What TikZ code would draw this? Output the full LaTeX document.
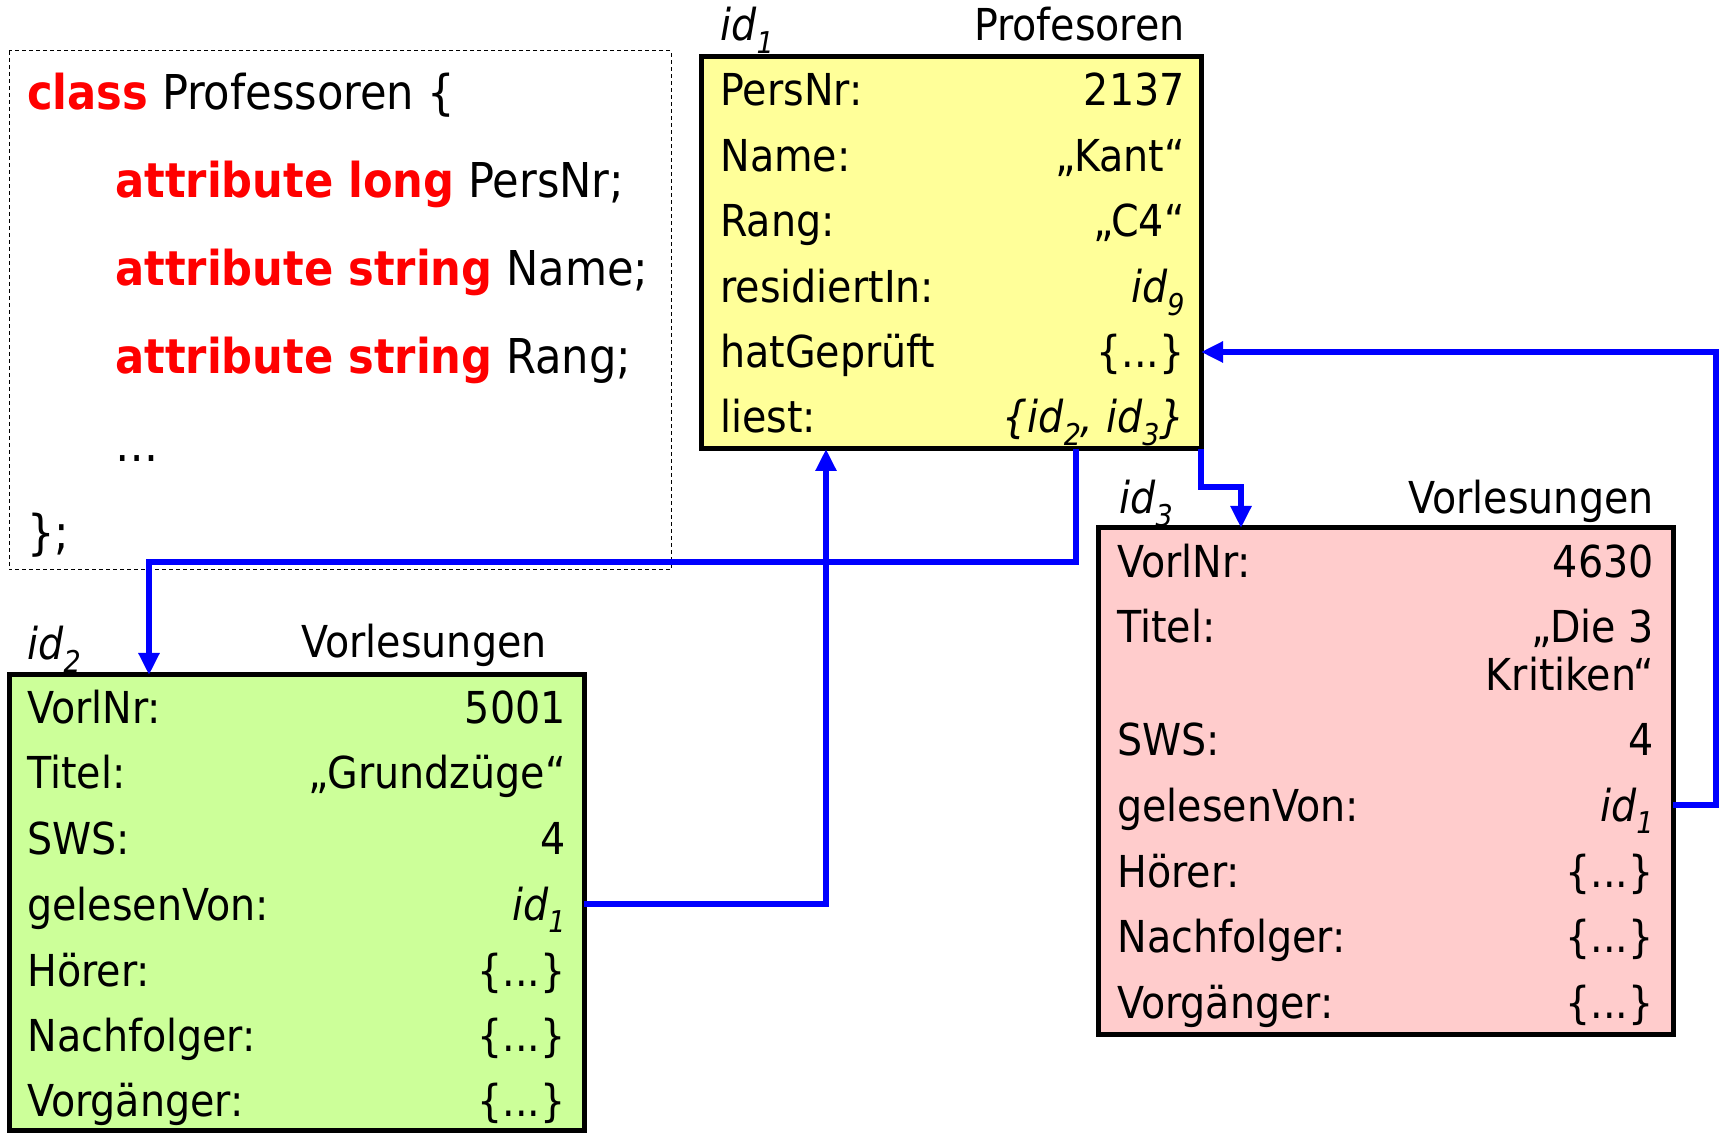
\documentclass[tikz,border=0pt]{standalone}
\usepackage{fontspec}
\setmainfont{DejaVu Sans Condensed}
\usetikzlibrary{arrows.meta}
\definecolor{profgelb}{HTML}{FFFF99}
\definecolor{vlgruen}{HTML}{CCFF99}
\definecolor{vlrot}{HTML}{FFCCCC}
\newcommand\oid[1]{\textit{id\raisebox{-.5ex}{\fontsize{15}{15}\selectfont#1}}}
\newcommand\kw[1]{\textcolor{red}{\bfseries#1}}

\begin{document}
\begin{tikzpicture}[x={(.5pt,0)},y={(0,-.5pt)},>={Triangle[length=11pt,width=10pt]},
  every node/.style={inner sep=0pt,font=\fontsize{22}{23}\selectfont},
  code/.style={anchor=base west,font=\fontsize{24}{24}\selectfont},
  lab/.style={anchor=base west},
  val/.style={anchor=base east,align=right},
  obj/.style={draw,line width=2.5pt,outer sep=0pt},
  link/.style={blue,line width=3.2pt,->}]
  \useasboundingbox (0,0) rectangle (1725,1133);
  % Klassendefinition
  \draw[dash pattern=on 2pt off 1.5pt,line width=.5pt] (9,51) rectangle (671,570);
  \node[code] (k1) at (27,110) {\kw{class} Professoren \{};
  \node[code] (k2) at (115,198) {\kw{attribute long} PersNr;};
  \node[code] (k3) at (115,286) {\kw{attribute string} Name;};
  \node[code] (k4) at (115,374) {\kw{attribute string} Rang;};
  \node[code] (k5) at (115,462) {\dots};
  \node[code] (k6) at (27,550) {\};};
  % Objekte
  \node[obj,fill=profgelb,minimum width=250pt,minimum height=196pt] (prof) at (951,253) {};
  \node[obj,fill=vlgruen,minimum width=287.5pt,minimum height=227.5pt] (v2) at (296.5,902.5) {};
  \node[obj,fill=vlrot,minimum width=287.5pt,minimum height=253pt] (v3) at (1385.5,781) {};
  \node[lab] (h1) at (720,41) {\oid{1}};
  \node[val] (t1) at (1185,41) {Profesoren};
  \node[lab] (h2) at (27,660) {\oid{2}};
  \node[val] (t2) at (547,658) {Vorlesungen};
  \node[lab] (h3) at (1119,514) {\oid{3}};
  \node[val] (t3) at (1654,514) {Vorlesungen};
  \foreach \y/\l/\w [count=\i] in {106/{PersNr:}/{2137},172/{Name:}/{„Kant“},
      237/{Rang:}/{„C4“},303/{residiertIn:}/{\oid{9}},368/{hatGeprüft}/{\{...\}},
      433/{liest:}/{\textit{\{}\oid{2}\textit{,} \oid{3}\textit{\}}}} {
    \node[lab] (pl\i) at (720,\y) {\l};
    \node[val] (pw\i) at (1185,\y) {\w};
  }
  \foreach \y/\l/\w [count=\i] in {724/{VorlNr:}/{5001},789/{Titel:}/{„Grundzüge“},
      855/{SWS:}/{4},920/{gelesenVon:}/{\oid{1}},986/{Hörer:}/{\{...\}},
      1051/{Nachfolger:}/{\{...\}},1116/{Vorgänger:}/{\{...\}}} {
    \node[lab] (al\i) at (27,\y) {\l};
    \node[val] (aw\i) at (566,\y) {\w};
  }
  \foreach \y/\l/\w [count=\i] in {578/{VorlNr:}/{4630},
      643/{Titel:}/{\begin{tabular}[t]{@{}r@{}}„Die 3\\Kritiken“\end{tabular}},
      755/{SWS:}/{4},821/{gelesenVon:}/{\oid{1}},887/{Hörer:}/{\{...\}},
      952/{Nachfolger:}/{\{...\}},1018/{Vorgänger:}/{\{...\}}} {
    \node[lab] (bl\i) at (1117,\y) {\l};
    \node[val] (bw\i) at (1654,\y) {\w};
  }
  % Verweise
  \coordinate (c1) at (1076,562);
  \coordinate (c2) at (149,562);
  \coordinate (c3) at (826,904);
  \coordinate (c4) at (1241,487);
  \coordinate (c5) at (1716,805);
  \coordinate (c6) at (1716,352);
  \draw[link] (prof.south -| c1) -- (c1) -- (c2) -- (v2.north -| c2);
  \draw[link] (v2.east |- c3) -- (c3) -- (prof.south -| c3);
  \draw[link] (prof.south east) |- (c4) -- (v3.north -| c4);
  \draw[link] (v3.east |- c5) -- (c5) -- (c6) -- (prof.east |- c6);
\end{tikzpicture}
\end{document}
